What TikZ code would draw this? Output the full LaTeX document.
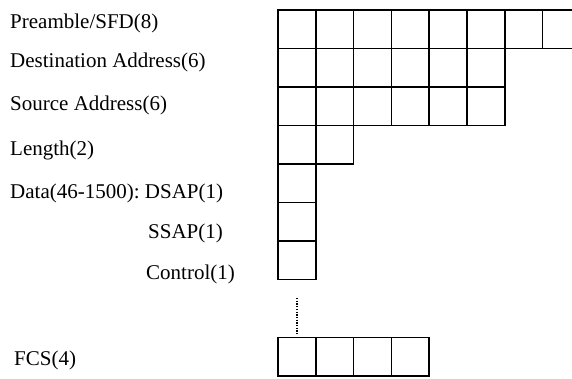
\documentclass[tikz,border=0pt]{standalone}
\usepackage{fontspec}
\setmainfont{Liberation Serif}
\frenchspacing
\usetikzlibrary{positioning}
\tikzset{
  cell/.style={draw, line width=1.5pt, minimum width=37.8pt, minimum height=38.5pt, inner sep=0pt, outer sep=0pt},
  field/.style={anchor=base west, inner sep=0pt, font=\fontsize{21}{25}\selectfont},
  dotline/.style={line width=1.2pt, dash pattern=on 1.3pt off 1.4pt}
}

\begin{document}
\begin{tikzpicture}[x=1pt, y=-1pt, node distance=0pt]
  \useasboundingbox (0,0) rectangle (572,378);
  \clip (0,0) rectangle (572,378);
  % field names with their lengths in bytes
  \node[field] (lpre) at (10,28) {Preamble/SFD(8)};
  \node[field] (ldst) at (10,67) {Destination Address(6)};
  \node[field] (lsrc) at (10,110) {Source Address(6)};
  \node[field] (llen) at (10,155) {Length(2)};
  \node[field] (ldsap) at (10,198) {Data(46-1500): DSAP(1)};
  \node[field] (lssap) at (148,238) {SSAP(1)};
  \node[field] (lctl) at (146,279) {Control(1)};
  \node[field] (lfcs) at (14,365) {FCS(4)};
  % one box per byte
  \node[cell] (pre1) at (296.9,29.25) {};
  \foreach \i [evaluate=\i as \j using int(\i-1)] in {2,...,8}
    \node[cell, right=of pre\j] (pre\i) {};
  \node[cell, below=of pre1] (dst1) {};
  \foreach \i [evaluate=\i as \j using int(\i-1)] in {2,...,6}
    \node[cell, right=of dst\j] (dst\i) {};
  \node[cell, below=of dst1] (src1) {};
  \foreach \i [evaluate=\i as \j using int(\i-1)] in {2,...,6}
    \node[cell, right=of src\j] (src\i) {};
  \node[cell, below=of src1] (len1) {};
  \node[cell, right=of len1] (len2) {};
  \node[cell, below=of len1] (dsap) {};
  \node[cell, below=of dsap] (ssap) {};
  \node[cell, below=of ssap] (ctl) {};
  \node[cell, below=58pt of ctl] (fcs1) {};
  \foreach \i [evaluate=\i as \j using int(\i-1)] in {2,...,4}
    \node[cell, right=of fcs\j] (fcs\i) {};
  \draw[dotline, shorten <=18.5pt, shorten >=3pt] (ctl.south) -- (fcs1.north);
\end{tikzpicture}
\end{document}
